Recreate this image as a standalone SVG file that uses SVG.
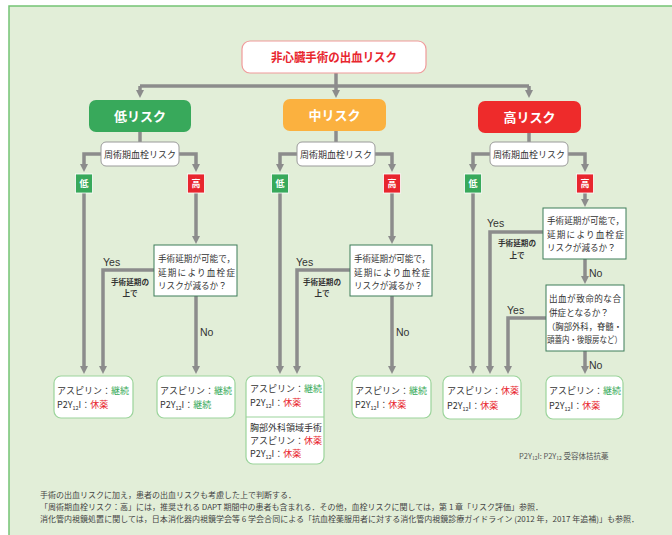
<svg xmlns="http://www.w3.org/2000/svg" width="672" height="535" viewBox="0 0 672 535">
<defs>
<marker id="arr" markerUnits="userSpaceOnUse" markerWidth="9" markerHeight="8" refX="3" refY="4" orient="auto">
<path d="M0,0 L8,4 L0,8 z" fill="#8c8c8c"/>
</marker>
<style>
text { font-family: "Noto Sans CJK JP", "Noto Sans", sans-serif; }
.conn { fill: none; stroke: #8c8c8c; stroke-width: 3.5; }
.ar { marker-end: url(#arr); }
.risk { stroke: none; }
.rt { font-size: 13px; font-weight: bold; fill: #ffffff; text-anchor: middle; }
.pbox { fill: #ffffff; stroke: #9a9a9a; stroke-width: 1; }
.pt { font-size: 9px; fill: #333333; text-anchor: middle; }
.sq { font-size: 9px; font-weight: bold; fill: #ffffff; text-anchor: middle; }
.dbox { fill: #ffffff; stroke: #3d7d58; stroke-width: 1; }
.dt { font-size: 8.6px; fill: #333333; }
.rbox { fill: #ffffff; stroke: #9bd49b; stroke-width: 1.2; }
.bt { font-size: 9px; fill: #333333; }
.g { fill: #3aaa5a; }
.r { fill: #e8262e; }
.yn { font-family: "Liberation Sans", Arial, sans-serif; font-size: 10.5px; fill: #333333; }
.sm { font-size: 7.6px; font-weight: bold; fill: #333333; text-anchor: middle; }
.sub { font-size: 5.5px; }
.fn { font-size: 8px; fill: #444444; }
</style>
</defs>

<rect x="9" y="6" width="670" height="540" fill="#e2eed8" stroke="#74c374" stroke-width="1.5"/>

<g id="connectors">
<path class="conn" d="M336,73 V86"/>
<path class="conn" d="M140,86 H529"/>
<path class="conn ar" d="M140,86 V93"/>
<path class="conn ar" d="M336,86 V93"/>
<path class="conn ar" d="M529,86 V93"/>
<path class="conn" d="M140,132 V142"/>
<path class="conn" d="M336,131 V142"/>
<path class="conn" d="M529,132 V142"/>
<path class="conn ar" d="M101,154 H84 V167"/>
<path class="conn ar" d="M179,154 H196 V167"/>
<path class="conn ar" d="M297,154 H280 V167"/>
<path class="conn ar" d="M375,154 H392 V167"/>
<path class="conn ar" d="M490,154 H473 V167"/>
<path class="conn ar" d="M568,154 H585 V167"/>
<path class="conn ar" d="M84,193 V369"/>
<path class="conn ar" d="M196,193 V239"/>
<path class="conn ar" d="M154,270 H103 V369"/>
<path class="conn ar" d="M196,296 V369"/>
<path class="conn ar" d="M280,193 V369"/>
<path class="conn ar" d="M392,193 V239"/>
<path class="conn ar" d="M350,270 H297 V369"/>
<path class="conn ar" d="M392,296 V369"/>
<path class="conn ar" d="M473,193 V369"/>
<path class="conn ar" d="M585,193 V202"/>
<path class="conn ar" d="M543,232 H490 V369"/>
<path class="conn ar" d="M585,259 V279"/>
<path class="conn ar" d="M546,318 H508 V369"/>
<path class="conn ar" d="M585,351 V369"/>
</g>

<g id="connector-labels">
<text class="yn" x="103" y="266">Yes</text>
<text class="sm" x="130" y="285">手術延期の</text>
<text class="sm" x="130" y="296">上で</text>
<text class="yn" x="200" y="336">No</text>
<text class="yn" x="296" y="266">Yes</text>
<text class="sm" x="322" y="285">手術延期の</text>
<text class="sm" x="322" y="296">上で</text>
<text class="yn" x="396" y="336">No</text>
<text class="yn" x="487" y="227">Yes</text>
<text class="sm" x="517" y="246">手術延期の</text>
<text class="sm" x="517" y="258">上で</text>
<text class="yn" x="589" y="277">No</text>
<text class="yn" x="507" y="314">Yes</text>
<text class="yn" x="589" y="369">No</text>
</g>

<g id="root">
<rect x="242" y="41" width="184" height="32" rx="8" fill="#ffffff" stroke="#f09a9a" stroke-width="1.2"/>
<text x="334" y="61.5" font-size="12.5" font-weight="bold" fill="#e8262e" text-anchor="middle" textLength="126" lengthAdjust="spacingAndGlyphs">非心臓手術の出血リスク</text>
</g>

<g id="low-risk">
<rect class="risk" x="89" y="100" width="102" height="32" rx="7" fill="#38a95b"/>
<text class="rt" x="140" y="121">低リスク</text>
</g>
<g id="mid-risk">
<rect class="risk" x="283" y="99" width="103" height="32" rx="7" fill="#fbb13f"/>
<text class="rt" x="334.5" y="120">中リスク</text>
</g>
<g id="high-risk">
<rect class="risk" x="478" y="101" width="103" height="32" rx="7" fill="#ee2b2b"/>
<text class="rt" x="529.5" y="122">高リスク</text>
</g>

<g id="low-thrombo">
<rect class="pbox" x="101" y="142" width="78" height="24" rx="5"/>
<text class="pt" x="140" y="157.5">周術期血栓リスク</text>
</g>
<g id="mid-thrombo">
<rect class="pbox" x="297" y="142" width="78" height="24" rx="5"/>
<text class="pt" x="336" y="157.5">周術期血栓リスク</text>
</g>
<g id="high-thrombo">
<rect class="pbox" x="490" y="142" width="78" height="24" rx="5"/>
<text class="pt" x="529" y="157.5">周術期血栓リスク</text>
</g>

<g id="low-low">
<rect x="75.5" y="174" width="17" height="19" fill="#38a95b" stroke="#ffffff" stroke-width="0.8"/>
<text class="sq" x="84" y="187">低</text>
</g>
<g id="low-high">
<rect x="187.5" y="174" width="17" height="19" fill="#e8262e" stroke="#ffffff" stroke-width="0.8"/>
<text class="sq" x="196" y="187">高</text>
</g>
<g id="mid-low">
<rect x="271.5" y="174" width="17" height="19" fill="#38a95b" stroke="#ffffff" stroke-width="0.8"/>
<text class="sq" x="280" y="187">低</text>
</g>
<g id="mid-high">
<rect x="383.5" y="174" width="17" height="19" fill="#e8262e" stroke="#ffffff" stroke-width="0.8"/>
<text class="sq" x="392" y="187">高</text>
</g>
<g id="high-low">
<rect x="464.5" y="174" width="17" height="19" fill="#38a95b" stroke="#ffffff" stroke-width="0.8"/>
<text class="sq" x="473" y="187">低</text>
</g>
<g id="high-high">
<rect x="576.5" y="174" width="17" height="19" fill="#e8262e" stroke="#ffffff" stroke-width="0.8"/>
<text class="sq" x="585" y="187">高</text>
</g>

<g id="low-decision">
<rect class="dbox" x="154" y="245" width="83" height="51"/>
<text class="dt" x="158" y="262" textLength="77" lengthAdjust="spacing">手術延期が可能で，</text>
<text class="dt" x="158" y="275.5" textLength="77" lengthAdjust="spacing">延期により血栓症</text>
<text class="dt" x="158" y="289">リスクが減るか？</text>
</g>
<g id="mid-decision">
<rect class="dbox" x="350" y="245" width="82" height="51"/>
<text class="dt" x="354" y="262" textLength="76" lengthAdjust="spacing">手術延期が可能で，</text>
<text class="dt" x="354" y="275.5" textLength="76" lengthAdjust="spacing">延期により血栓症</text>
<text class="dt" x="354" y="289">リスクが減るか？</text>
</g>
<g id="high-decision1">
<rect class="dbox" x="543" y="208" width="83" height="51"/>
<text class="dt" x="547" y="224" textLength="77" lengthAdjust="spacing">手術延期が可能で，</text>
<text class="dt" x="547" y="237.5" textLength="77" lengthAdjust="spacing">延期により血栓症</text>
<text class="dt" x="547" y="251">リスクが減るか？</text>
</g>
<g id="high-decision2">
<rect class="dbox" x="546" y="285" width="78" height="66"/>
<text class="dt" x="549" y="301.5" textLength="72" lengthAdjust="spacing">出血が致命的な合</text>
<text class="dt" x="549" y="315.5">併症となるか？</text>
<text class="dt" x="547" y="330" textLength="75" lengthAdjust="spacingAndGlyphs">（胸部外科，脊髄・</text>
<text class="dt" x="547" y="343" textLength="75" lengthAdjust="spacingAndGlyphs">頭蓋内・後眼房など）</text>
</g>

<g id="result-low-1">
<rect class="rbox" x="54" y="376" width="79" height="42" rx="7"/>
<text class="bt" x="57" y="394">アスピリン：<tspan class="g">継続</tspan></text>
<text class="bt" x="57" y="408">P2Y<tspan class="sub" dy="1.5">12</tspan><tspan dy="-1.5">I：</tspan><tspan class="r">休薬</tspan></text>
</g>
<g id="result-low-2">
<rect class="rbox" x="157" y="376" width="78" height="42" rx="7"/>
<text class="bt" x="160" y="394">アスピリン：<tspan class="g">継続</tspan></text>
<text class="bt" x="160" y="408">P2Y<tspan class="sub" dy="1.5">12</tspan><tspan dy="-1.5">I：</tspan><tspan class="g">継続</tspan></text>
</g>
<g id="result-mid-1">
<rect class="rbox" x="246" y="376" width="78" height="88" rx="7"/>
<line x1="246" y1="417" x2="324" y2="417" stroke="#9bd49b" stroke-width="1.2"/>
<text class="bt" x="250" y="392">アスピリン：<tspan class="g">継続</tspan></text>
<text class="bt" x="250" y="406">P2Y<tspan class="sub" dy="1.5">12</tspan><tspan dy="-1.5">I：</tspan><tspan class="r">休薬</tspan></text>
<text class="bt" x="250" y="431">胸部外科領域手術</text>
<text class="bt" x="250" y="444">アスピリン：<tspan class="r">休薬</tspan></text>
<text class="bt" x="250" y="457">P2Y<tspan class="sub" dy="1.5">12</tspan><tspan dy="-1.5">I：</tspan><tspan class="r">休薬</tspan></text>
</g>
<g id="result-mid-2">
<rect class="rbox" x="352" y="376" width="79" height="42" rx="7"/>
<text class="bt" x="355" y="394">アスピリン：<tspan class="g">継続</tspan></text>
<text class="bt" x="355" y="408">P2Y<tspan class="sub" dy="1.5">12</tspan><tspan dy="-1.5">I：</tspan><tspan class="r">休薬</tspan></text>
</g>
<g id="result-high-1">
<rect class="rbox" x="443" y="376" width="78" height="43" rx="7"/>
<text class="bt" x="447" y="394">アスピリン：<tspan class="r">休薬</tspan></text>
<text class="bt" x="447" y="409">P2Y<tspan class="sub" dy="1.5">12</tspan><tspan dy="-1.5">I：</tspan><tspan class="r">休薬</tspan></text>
</g>
<g id="result-high-2">
<rect class="rbox" x="546" y="376" width="77" height="43" rx="7"/>
<text class="bt" x="549" y="394">アスピリン：<tspan class="g">継続</tspan></text>
<text class="bt" x="549" y="409">P2Y<tspan class="sub" dy="1.5">12</tspan><tspan dy="-1.5">I：</tspan><tspan class="r">休薬</tspan></text>
</g>

<g id="legend">
<text x="519" y="459" font-size="7.5" fill="#555555">P2Y<tspan font-size="5" dy="1.2">12</tspan><tspan dy="-1.2">I: P2Y</tspan><tspan font-size="5" dy="1.2">12</tspan><tspan dy="-1.2"> 受容体拮抗薬</tspan></text>
</g>

<g id="footnotes">
<text class="fn" x="40" y="498">手術の出血リスクに加え，患者の出血リスクも考慮した上で判断する．</text>
<text class="fn" x="40" y="510">「周術期血栓リスク：高」には，推奨される DAPT 期間中の患者も含まれる．その他，血栓リスクに関しては，第 1 章「リスク評価」参照．</text>
<text class="fn" x="40" y="522" textLength="599" lengthAdjust="spacingAndGlyphs">消化管内視鏡処置に関しては，日本消化器内視鏡学会等 6 学会合同による「抗血栓薬服用者に対する消化管内視鏡診療ガイドライン (2012 年，2017 年追補)」も参照．</text>
</g>
</svg>
